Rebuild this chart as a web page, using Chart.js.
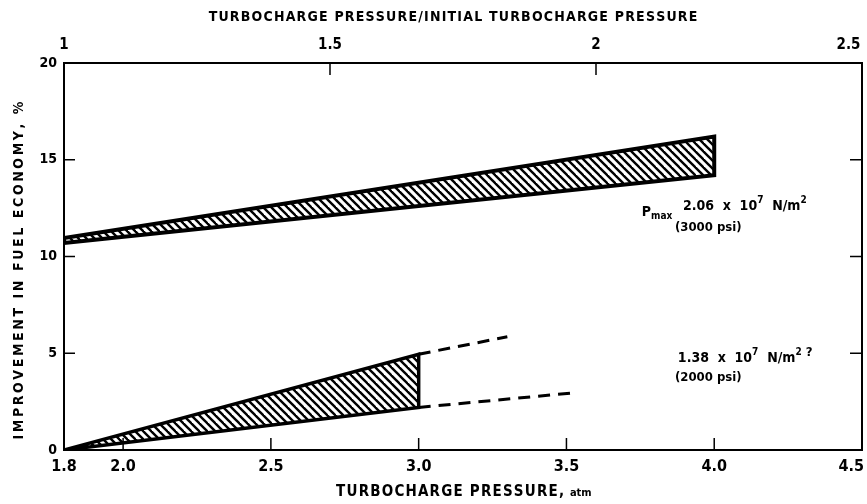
<!DOCTYPE html>
<html>
<head>
<meta charset="utf-8">
<script src="https://cdn.jsdelivr.net/npm/chart.js@4.4.1/dist/chart.umd.min.js"></script>
<style>
  html, body { margin: 0; padding: 0; background: #fff; }
  #wrap { width: 867px; height: 504px; }
</style>
</head>
<body>
<div id="wrap"><canvas id="c"></canvas></div>
<script>
// valeurs
var bandX = [1.8, 4.0];
var highTop = [10.95, 16.2];
var highBottom = [10.7, 14.2];
var lowX = [1.8, 3.0];
var lowTop = [0, 4.95];
var lowBottom = [0, 2.2];
var dashTopX = [3.0, 3.3];
var dashTop = [4.95, 5.85];
var dashBottomX = [3.0, 3.52];
var dashBottom = [2.2, 2.95];
var bottomTicks = [1.8, 2.0, 2.5, 3.0, 3.5, 4.0, 4.5];
var topTicks = [1, 1.5, 2, 2.5];

var FONT = "'DejaVu Sans Condensed', 'DejaVu Sans', sans-serif";

// motif hachuré
function hatch() {
    var s = 8;
    var c = document.createElement('canvas');
    c.width = s; c.height = s;
    var g = c.getContext('2d');
    g.fillStyle = '#fff';
    g.fillRect(0, 0, s, s);
    g.strokeStyle = '#000';
    g.lineWidth = 2.4;
    for (var k = -1; k <= 1; k++) {
        g.beginPath();
        g.moveTo(k * s - s, -s);
        g.lineTo(k * s + 2 * s, 2 * s);
        g.stroke();
    }
    return g.createPattern(c, 'repeat');
}

function polygon(xs, top, bottom) {
    return [
        { x: xs[0], y: top[0] }, { x: xs[1], y: top[1] },
        { x: xs[1], y: bottom[1] }, { x: xs[0], y: bottom[0] },
        { x: xs[0], y: top[0] }
    ];
}

function segment(xs, ys) {
    return xs.map(function (v, i) { return { x: v, y: ys[i] }; });
}

var pattern = hatch();

// textes (position en unités des axes)
var notes = [
    { x: 3.755, y: 12.1, parts: [['P', 0, 14], ['max', 3, 10]] },
    { x: 3.894, y: 12.4, parts: [['2.06  x  10', 0, 14], ['7', -7, 10], ['  N/m', 0, 14], ['2', -7, 10]] },
    { x: 3.867, y: 11.3, parts: [['(3000 psi)', 0, 13]] },
    { x: 3.877, y: 4.55, parts: [['1.38  x  10', 0, 14], ['7', -7, 10], ['  N/m', 0, 14], ['2', -7, 10], [' ?', -6, 13]] },
    { x: 3.867, y: 3.57, parts: [['(2000 psi)', 0, 13]] }
];

function spaced(ctx, text, x, y, gap) {
    // texte centré avec espacement des lettres
    var w = 0, i;
    for (i = 0; i < text.length; i++) w += ctx.measureText(text[i]).width + (i ? gap : 0);
    var cx = x - w / 2;
    for (i = 0; i < text.length; i++) {
        ctx.fillText(text[i], cx, y);
        cx += ctx.measureText(text[i]).width + gap;
    }
    return x + w / 2;
}

var decor = {
    id: 'decor',
    afterDatasetsDraw: function (chart) {
        var ctx = chart.ctx, a = chart.chartArea;
        var sx = chart.scales.x, sy = chart.scales.y, st = chart.scales.xTop;
        ctx.save();
        ctx.strokeStyle = '#000';
        ctx.lineWidth = 2;
        ctx.strokeRect(a.left, a.top, a.right - a.left, a.bottom - a.top);
        ctx.lineWidth = 1.5;
        ctx.beginPath();
        bottomTicks.slice(1, -1).forEach(function (v) {
            var p = sx.getPixelForValue(v);
            ctx.moveTo(p, a.bottom); ctx.lineTo(p, a.bottom - 12);
        });
        topTicks.slice(1, -1).forEach(function (v) {
            var p = st.getPixelForValue(v);
            ctx.moveTo(p, a.top); ctx.lineTo(p, a.top + 12);
        });
        [5, 10, 15].forEach(function (v) {
            var p = sy.getPixelForValue(v);
            ctx.moveTo(a.left, p); ctx.lineTo(a.left + 11, p);
            ctx.moveTo(a.right, p); ctx.lineTo(a.right - 12, p);
        });
        ctx.stroke();

        ctx.fillStyle = '#000';
        ctx.textBaseline = 'alphabetic';
        notes.forEach(function (n) {
            var x = sx.getPixelForValue(n.x), y = sy.getPixelForValue(n.y);
            n.parts.forEach(function (p) {
                ctx.font = 'bold ' + p[2] + 'px ' + FONT;
                ctx.fillText(p[0], x, y + p[1]);
                x += ctx.measureText(p[0]).width;
            });
        });

        // titres des axes
        var mid = (a.left + a.right) / 2;
        ctx.textBaseline = 'middle';
        ctx.font = 'bold 14px ' + FONT;
        spaced(ctx, 'TURBOCHARGE PRESSURE/INITIAL TURBOCHARGE PRESSURE', mid - 10, 17, 1.2);
        ctx.font = 'bold 15px ' + FONT;
        var endX = spaced(ctx, 'TURBOCHARGE PRESSURE, ', mid - 10, 492, 1.2);
        ctx.font = 'bold 11px ' + FONT;
        ctx.textAlign = 'left';
        ctx.fillText('atm', endX, 493);
        ctx.save();
        ctx.translate(19, (a.top + a.bottom) / 2 + 14);
        ctx.rotate(-Math.PI / 2);
        ctx.font = 'bold 14px ' + FONT;
        spaced(ctx, 'IMPROVEMENT IN FUEL ECONOMY, %', 0, 0, 2.6);
        ctx.restore();
        ctx.restore();
    }
};

function noPad(s) {
    s.paddingLeft = 0; s.paddingRight = 0; s.paddingTop = 0; s.paddingBottom = 0;
}

new Chart(document.getElementById('c'), {
    type: 'scatter',
    data: {
        datasets: [{
            data: polygon(bandX, highTop, highBottom),
            showLine: true,
            fill: 'shape',
            backgroundColor: pattern,
            borderColor: '#000',
            borderWidth: 4,
            borderJoinStyle: 'miter',
            pointRadius: 0
        }, {
            data: polygon(lowX, lowTop, lowBottom),
            showLine: true,
            fill: 'shape',
            backgroundColor: pattern,
            borderColor: '#000',
            borderWidth: 3.5,
            borderJoinStyle: 'miter',
            pointRadius: 0
        }, {
            data: segment(dashTopX, dashTop),
            showLine: true,
            borderColor: '#000',
            borderWidth: 3,
            borderDash: [12, 8],
            pointRadius: 0
        }, {
            data: segment(dashBottomX, dashBottom),
            showLine: true,
            borderColor: '#000',
            borderWidth: 3,
            borderDash: [12, 8],
            pointRadius: 0
        }]
    },
    options: {
        responsive: true,
        maintainAspectRatio: false,
        animation: false,
        layout: { padding: { right: 5, left: 0, top: 0, bottom: 0 } },
        plugins: { legend: { display: false }, tooltip: { enabled: false } },
        scales: {
            x: {
                type: 'linear', position: 'bottom', min: 1.8, max: 4.5,
                grid: { display: false, drawTicks: false },
                border: { display: false },
                afterBuildTicks: function (s) { s.ticks = bottomTicks.map(function (v) { return { value: v }; }); },
                afterFit: function (s) { s.height = 54; noPad(s); },
                ticks: {
                    padding: 7, color: '#000', maxRotation: 0, autoSkip: false,
                    font: { family: FONT, size: 16, weight: 'bold' },
                    callback: function (v) {
                        return v === 4.5 ? '4.5\u2002\u2002\u2002' : v.toFixed(1);
                    }
                }
            },
            xTop: {
                type: 'linear', position: 'top', min: 1, max: 2.5,
                grid: { display: false, drawTicks: false },
                border: { display: false },
                afterBuildTicks: function (s) { s.ticks = topTicks.map(function (v) { return { value: v }; }); },
                afterFit: function (s) { s.height = 63; noPad(s); },
                ticks: {
                    padding: 9, color: '#000', maxRotation: 0, autoSkip: false,
                    font: { family: FONT, size: 15, weight: 'bold' },
                    callback: function (v) {
                        return v === 2.5 ? '2.5\u2002\u2002\u2002\u2002' : String(v);
                    }
                }
            },
            y: {
                type: 'linear', min: 0, max: 20,
                grid: { display: false, drawTicks: false },
                border: { display: false },
                afterFit: function (s) { s.width = 64; noPad(s); },
                ticks: {
                    stepSize: 5, padding: 7, color: '#000',
                    font: { family: FONT, size: 14, weight: 'bold' }
                }
            }
        }
    },
    plugins: [decor]
});
</script>
</body>
</html>
